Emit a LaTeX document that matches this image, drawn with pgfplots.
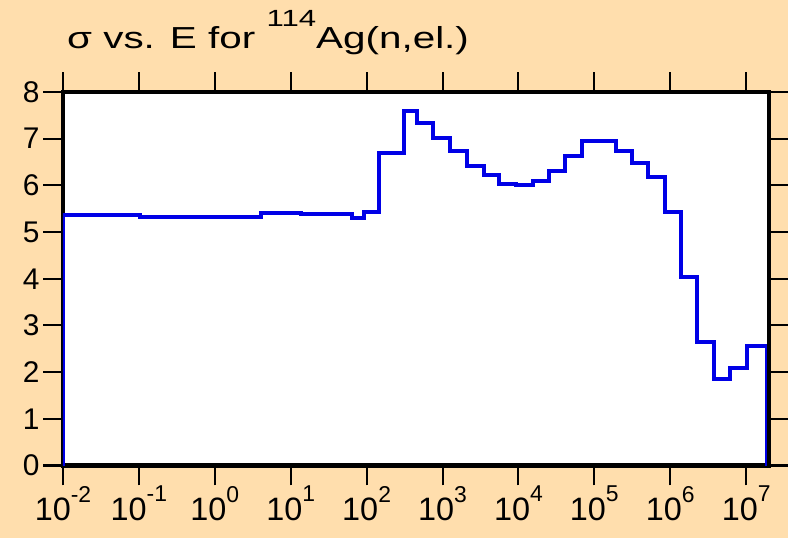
\documentclass[border=0pt]{standalone}
\usepackage{pgfplots}
\pgfplotsset{compat=1.18}
\usepackage{fontspec}
\setmainfont{Liberation Sans}
\definecolor{peach}{RGB}{255,222,173}
\definecolor{lineblue}{RGB}{0,0,230}
\newcommand{\ex}[1]{10\raisebox{18.4bp}{\fontsize{23}{23}\selectfont #1}}
\begin{document}
\begin{tikzpicture}
\useasboundingbox (-63bp,-72.5bp) rectangle (725bp,465.5bp);
\clip (-63bp,-72.5bp) rectangle (725bp,465.5bp);
\fill[peach] (-63bp,-72.5bp) rectangle (725bp,465.5bp);
\begin{axis}[at={(0,0)}, anchor=south west, scale only axis,
  width=706bp, height=373.5bp,
  xmode=log, xmin=1e-2, xmax=2e7, ymin=0, ymax=8,
  xtick={1e-2,1e-1,1,1e1,1e2,1e3,1e4,1e5,1e6,1e7},
  xticklabels={\ex{-2},\ex{-1},\ex{0},\ex{1},\ex{2},\ex{3},\ex{4},\ex{5},\ex{6},\ex{7}},
  xminorticks=false, yminorticks=false, minor tick num=0,
  ytick={0,1,...,8},
  tick align=outside, major tick length=20bp,
  tick style={line width=2bp, black},
  axis line style={line width=4bp},
  axis background/.style={fill=white},
  yticklabel style={font=\fontsize{30}{30}\selectfont},
  xticklabel style={font=\fontsize{32.5}{33}\selectfont, inner sep=0.5bp},
  /pgf/number format/assume math mode=true,
]
\addplot[const plot mark left, line width=4bp, color=lineblue, line join=miter] coordinates {
(1e-2,0)
(1e-2,5.36)
(0.102,5.32)
(4.03,5.41)
(13.5,5.38)
(64.6,5.31)
(91.2,5.42)
(144.5,6.70)
(309,7.60)
(464.5,7.34)
(753,7.02)
(1259,6.73)
(2089,6.42)
(3467,6.22)
(5623,6.03)
(9333,6.00)
(15488,6.10)
(25119,6.31)
(41687,6.62)
(69183,6.95)
(114815,6.96)
(190546,6.74)
(309030,6.47)
(512861,6.17)
(851138,5.42)
(1.38e6,4.03)
(2.239e6,2.64)
(3.758e6,1.85)
(6.166e6,2.09)
(1.023e7,2.57)
(1.905e7,0)
};
\end{axis}
\begin{axis}[at={(0,0)}, anchor=south west, scale only axis,
  width=706bp, height=373.5bp,
  xmode=log, xmin=1e-2, xmax=2e7, ymin=0, ymax=8,
  xtick={1e-2,1e-1,1,1e1,1e2,1e3,1e4,1e5,1e6,1e7},
  xminorticks=false, yminorticks=false, minor tick num=0,
  ytick={0,1,...,8},
  axis x line*=top, axis y line*=right,
  tick align=outside, major tick length=20bp,
  tick style={line width=2bp, black},
  xticklabels={}, yticklabels={},
  axis line style={line width=4bp}]
\addplot[draw=none, forget plot] coordinates {(1,1)};
\end{axis}
\node[anchor=base west, font=\fontsize{30.5}{31}\selectfont, inner sep=0pt] at (4bp,416.5bp) {\scalebox{1.33}[1]{σ vs. E for \raisebox{22.6bp}{\fontsize{23.5}{24}\selectfont 114}Ag(n,el.)}};
\end{tikzpicture}
\end{document}
